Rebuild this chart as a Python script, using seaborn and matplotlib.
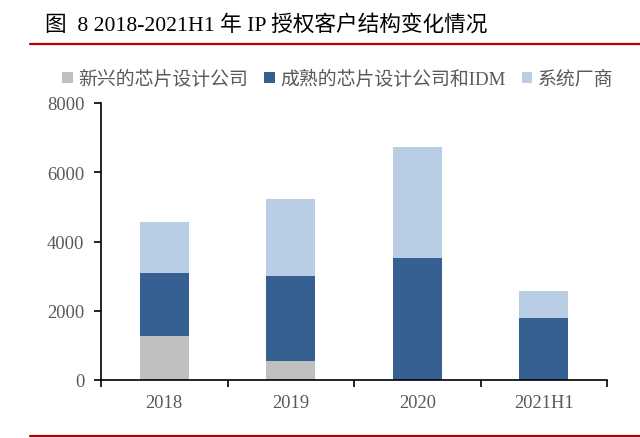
import matplotlib
matplotlib.use("Agg")
import matplotlib.pyplot as plt
import seaborn as sns
import numpy as np
from matplotlib.patches import Patch
from matplotlib.lines import Line2D

categories = ["2018", "2019", "2020", "2021H1"]
emerging = [1260, 560, 0, 0]
mature = [1840, 2440, 3530, 1800]
system = [1470, 2230, 3210, 760]
series_names = ["新兴的芯片设计公司", "成熟的芯片设计公司和IDM", "系统厂商"]
colors = ["#BFBFBF", "#376092", "#B9CDE5"]
title = "图  8 2018-2021H1 年 IP 授权客户结构变化情况"

sns.set_theme(style="white")
plt.rcParams['font.family'] = ['Liberation Serif', 'Noto Sans CJK SC', 'DejaVu Sans']

fig = plt.figure(figsize=(6.4, 4.39), dpi=100)
ax = fig.add_axes([101/640, 1-381/439, 506/640, 277/439])

b1 = np.array(emerging)
b2 = b1 + np.array(mature)
sns.barplot(x=categories, y=emerging, color=colors[0], width=0.39, ax=ax, saturation=1)
sns.barplot(x=categories, y=mature, bottom=b1, color=colors[1], width=0.39, ax=ax, saturation=1)
sns.barplot(x=categories, y=system, bottom=b2, color=colors[2], width=0.39, ax=ax, saturation=1)
for p in ax.patches:
    p.set_edgecolor("none")

ax.set_xlim(-0.5, 3.5)
ax.set_ylim(0, 8000)
ax.set_yticks([0, 2000, 4000, 6000, 8000])
ax.set_xlabel("")
ax.set_ylabel("")
for s in ["top", "right"]:
    ax.spines[s].set_visible(False)
for s in ["left", "bottom"]:
    ax.spines[s].set_color("black")
    ax.spines[s].set_linewidth(1.2)
ax.tick_params(axis="y", which="major", direction="out", length=5, width=1.2, color="black",
               left=True, labelsize=13.3, labelcolor="#595959", pad=7)
ax.tick_params(axis="x", which="major", length=0, labelsize=13.3, labelcolor="#595959", pad=10)
ax.set_xticks([-0.5, 0.5, 1.5, 2.5, 3.5], minor=True)
ax.tick_params(axis="x", which="minor", direction="out", length=5, width=1.2, color="black", bottom=True)
for lab in ax.get_xticklabels() + ax.get_yticklabels():
    lab.set_family(['Liberation Serif'])

fig.text(45/640, 1-25/439, title, fontsize=15.6, va="center", ha="left",
         family=['Liberation Serif', 'Noto Sans CJK SC'], color="black")
fig.add_artist(Line2D([30/640, 1], [1-44.5/439, 1-44.5/439], color="#C00000", lw=1.6))
fig.add_artist(Line2D([30/640, 1], [1-437/439, 1-437/439], color="#C00000", lw=1.6))

handles = [Patch(facecolor=c, edgecolor="none") for c in colors]
leg = fig.legend(handles, series_names, loc="center", bbox_to_anchor=(338/640, 1-80/439), ncol=3,
                 frameon=False, handlelength=0.55, handleheight=0.55, handletextpad=0.3,
                 columnspacing=0.85, prop={'family': ['Liberation Serif', 'Noto Sans CJK SC'], 'size': 13.6})
for t in leg.get_texts():
    t.set_color("#595959")

fig.savefig("out.png", dpi=100)
